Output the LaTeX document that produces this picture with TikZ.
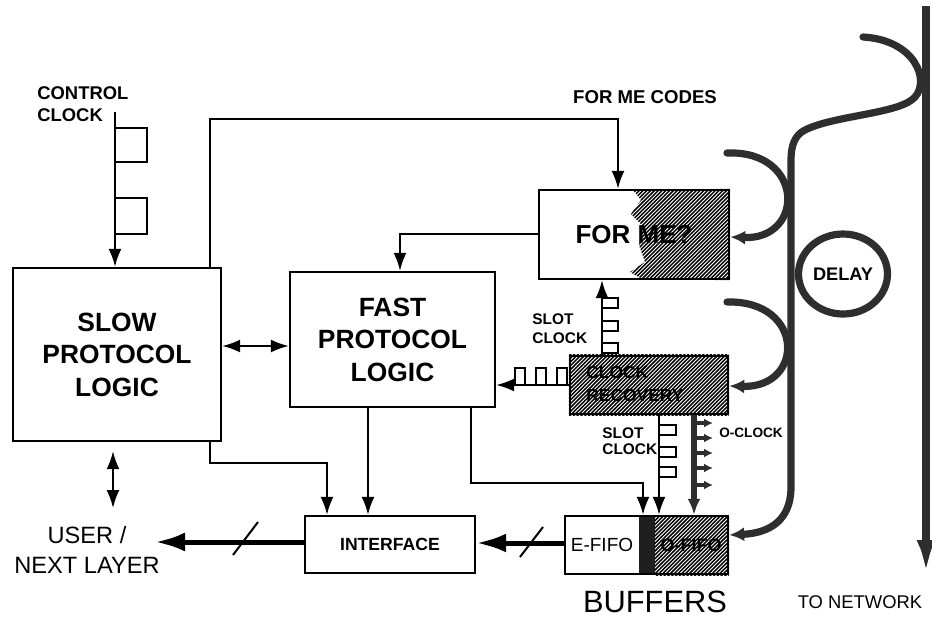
\documentclass[tikz,border=0pt]{standalone}
\usepackage{fontspec}
\setmainfont{Liberation Sans}
\usetikzlibrary{arrows.meta,shapes.geometric,patterns}
\pgfdeclarelayer{bg}
\pgfsetlayers{bg,main}
\pgfdeclarepatternformonly{hatchNE}{\pgfqpoint{-1pt}{-1pt}}{\pgfqpoint{3pt}{3pt}}{\pgfqpoint{1.9pt}{1.9pt}}{%
  \pgfsetlinewidth{0.72pt}%
  \pgfpathmoveto{\pgfqpoint{0pt}{0pt}}%
  \pgfpathlineto{\pgfqpoint{2pt}{2pt}}%
  \pgfusepath{stroke}}
\begin{document}
\begin{tikzpicture}[x=0.5pt,y=-0.5pt,
  box/.style={draw, line width=1.2pt, inner sep=0pt, align=center},
  bigfont/.style={font=\fontsize{13.2}{16.25}\selectfont\bfseries},
  arr/.style={line width=1pt, -{Latex[length=9pt,width=6.5pt]}},
  darr/.style={line width=1pt, {Latex[length=9pt,width=6.5pt]}-{Latex[length=9pt,width=6.5pt]}},
  thickarr/.style={line width=2.5pt, -{Latex[length=15pt,width=9.5pt]}},
  thinline/.style={line width=1pt},
  pulse/.style={line width=1pt},
  ring/.style={line width=3.6pt, draw=black!82, line cap=round},
  ringarr/.style={ring, -{Latex[length=7.5pt,width=7pt]}},
  oclk/.style={line width=3pt, draw=black!82, -{Latex[length=8pt,width=6.5pt]}},
  otick/.style={line width=1.6pt, draw=black!82, -{Latex[length=4.5pt,width=4.5pt]}},
  net/.style={line width=4.4pt, draw=black!82, -{Latex[length=19pt,width=9pt]}},
  lbl/.style={inner sep=0pt, align=left},
]
\useasboundingbox (0,0) rectangle (932,617);

% ---------- boxes ----------
\node[box, minimum width=104pt, minimum height=86.5pt, bigfont] (slow) at (117,354.5) {SLOW\\PROTOCOL\\LOGIC};
\node[box, minimum width=102.5pt, minimum height=67.5pt, bigfont] (fast) at (392.5,339.5) {FAST\\PROTOCOL\\LOGIC};
\node[box, minimum width=95pt, minimum height=44.5pt, font=\fontsize{13}{15}\selectfont\bfseries] (forme) at (634,234.5) {FOR ME?};
\node[box, minimum width=79pt, minimum height=29pt] (clkrec) at (649,385) {};
\node[lbl, anchor=west, font=\fontsize{8.7}{11.5}\selectfont\bfseries] (clktxt) at (586,384) {CLOCK\\RECOVERY};
\node[box, minimum width=81.5pt, minimum height=29pt] (fifo) at (646.5,545) {};
\node[box, minimum width=85pt, minimum height=28.5pt, font=\fontsize{8.8}{10}\selectfont\bfseries] (iface) at (390,544.5) {INTERFACE};
\node[font=\fontsize{9.5}{11}\selectfont] (efifo) at (602,545) {E-FIFO};
\node[font=\fontsize{9}{11}\selectfont\bfseries] (ofifo) at (691,545) {O-FIFO};

\begin{pgfonlayer}{bg}
  \fill[pattern=hatchNE] (633,190) -- (641,200) -- (631,214) -- (643,226) -- (639,245) -- (645,262) -- (630,272) -- (642,279) -- (forme.south east) -- (forme.north east) -- cycle;
  \fill[pattern=hatchNE] (clkrec.south west) rectangle (clkrec.north east);
  \fill[pattern=hatchNE] (655,516) rectangle (fifo.south east);
  \fill[black!88] (639,516) rectangle (655,574);
\end{pgfonlayer}

% ---------- labels ----------
\node[lbl, anchor=west, font=\fontsize{9.2}{11}\selectfont\bfseries] (ctrl) at (37,104) {CONTROL\\CLOCK};
\node[font=\fontsize{9.3}{11}\selectfont\bfseries] (codes) at (645,97) {FOR ME CODES};
\node[lbl, anchor=west, font=\fontsize{7.7}{9.5}\selectfont\bfseries] (slot1) at (532,328.5) {SLOT\\CLOCK};
\node[lbl, anchor=west, font=\fontsize{7.7}{8.2}\selectfont\bfseries] (slot2) at (602,441) {SLOT\\CLOCK};
\node[font=\fontsize{6.8}{8}\selectfont\bfseries] (oclab) at (751,433) {O-CLOCK};
\node[align=center, font=\fontsize{11.8}{15}\selectfont] (user) at (87,550) {USER /\\NEXT LAYER};
\node[inner sep=0pt, font=\fontsize{15.4}{18}\selectfont] (buffers) at (655,602) {BUFFERS};
\node[inner sep=0pt, font=\fontsize{9.2}{11}\selectfont] (tonet) at (860,602) {TO NETWORK};

% ---------- control clock ----------
\coordinate (ccTop) at (115,112);
\draw[arr] (ccTop) -- (slow.north -| ccTop);
\draw[pulse] (115,128) rectangle (147,162);
\draw[pulse] (115,198) rectangle (147,234);

% ---------- slow -> for me (top line) ----------
\coordinate (xA) at (210,119);
\coordinate (xB) at (618,119);
\draw[arr] (slow.north -| xA) -- (xA) -- (xB) -- (xB |- forme.north);

% ---------- for me -> fast ----------
\coordinate (xC) at (400,234);
\draw[arr] (forme.west |- xC) -- (xC) -- (xC |- fast.north);

% ---------- slow <-> fast ----------
\coordinate (yD) at (0,346);
\draw[darr] (slow.east |- yD) -- (fast.west |- yD);

% ---------- slot clock up ----------
\coordinate (xE) at (602,0);
\draw[arr] (clkrec.north -| xE) -- (forme.south -| xE);
\foreach \a in {298,321,343} \draw[pulse] (602,\a) rectangle (618,\a+10);

% ---------- slot clock to fast ----------
\coordinate (yF) at (0,385);
\draw[arr] (clkrec.west |- yF) -- (fast.east |- yF);
\foreach \a in {515,536,557} \draw[pulse] (\a,385) rectangle (\a+10,368);

% ---------- slot clock down ----------
\coordinate (xG) at (659,0);
\draw[arr] (clkrec.south -| xG) -- (fifo.north -| xG);
\foreach \a in {425,447,467} \draw[pulse] (659,\a) rectangle (676,\a+10);

% ---------- O-clock ----------
\coordinate (xH) at (694,0);
\draw[oclk] (clkrec.south -| xH) -- (fifo.north -| xH);
\foreach \a in {423,438,453,468,485} \draw[otick] (695,\a) -- (713,\a);

% ---------- fast -> fifo ----------
\coordinate (xI) at (471,483);
\coordinate (xJ) at (643,483);
\draw[arr] (fast.south -| xI) -- (xI) -- (xJ) -- (xJ |- fifo.north);

% ---------- fast -> interface ----------
\coordinate (xK) at (368,0);
\draw[arr] (fast.south -| xK) -- (iface.north -| xK);

% ---------- slow -> interface ----------
\coordinate (xL) at (210,463);
\coordinate (xM) at (327,463);
\draw[arr] (slow.south -| xL) -- (xL) -- (xM) -- (xM |- iface.north);

% ---------- slow <-> user ----------
\coordinate (xN) at (113,508);
\draw[darr] ([yshift=-4.5pt]slow.south -| xN) -- (xN);

% ---------- data path ----------
\coordinate (userIn) at (155,542);
\draw[thickarr] (iface.west |- userIn) -- (userIn);
\draw[thinline] (233,555) -- (258,522);
\coordinate (yP) at (0,543);
\draw[thickarr] (fifo.west |- yP) -- (iface.east |- yP);
\draw[thinline] (520,557) -- (543,527);

% ---------- ring ----------
\coordinate (netTop) at (926,6);
\coordinate (netBot) at (926,578);
\draw[net] (netTop) -- (netBot);
\coordinate (yQ) at (0,535);
\draw[ringarr] (863,37) .. controls (915,40) and (930,80) .. (915,97)
  .. controls (900,114) and (835,115) .. (805,130)
  .. controls (795,135) and (791,145) .. (791,160)
  -- (791,487) .. controls (791,520) and (770,533) .. (fifo.east |- yQ);
\coordinate (yR) at (0,237);
\draw[ringarr] (727,153) .. controls (805,150) and (805,240) .. (forme.east |- yR);
\coordinate (yS) at (0,386);
\draw[ringarr] (727,302) .. controls (805,300) and (805,388) .. (clkrec.east |- yS);
\node[ellipse, draw=black!82, line width=3.6pt, minimum width=44.5pt, minimum height=40pt, inner sep=0pt, font=\fontsize{9.1}{11}\selectfont\bfseries] (delay) at (843,274) {DELAY};
\end{tikzpicture}
\end{document}
